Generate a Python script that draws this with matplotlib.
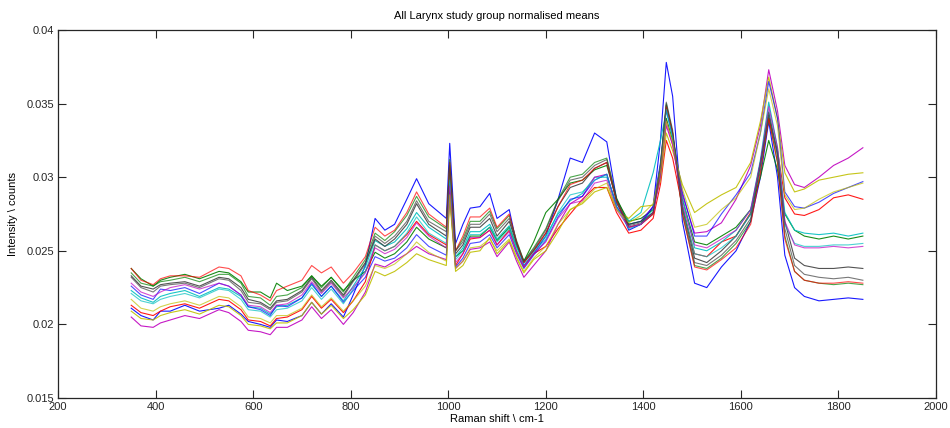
import numpy as np
import matplotlib
matplotlib.use("Agg")
from matplotlib import pyplot as plt

plt.rcParams['font.family'] = ['Liberation Sans', 'DejaVu Sans']

# Raman shift grid (cm-1) and normalised group means (units of 1e-3 counts)
shift = [350, 370, 395, 410, 430, 460, 490, 530, 550, 575,
         590, 615, 635, 648, 670, 700, 720, 740, 760, 785,
         805, 830, 850, 870, 890, 915, 935, 960, 996, 1003,
         1015, 1030, 1045, 1065, 1085, 1100, 1125, 1140, 1155, 1175,
         1200, 1225, 1250, 1275, 1300, 1325, 1345, 1370, 1395, 1420,
         1435, 1447, 1460, 1480, 1505, 1530, 1560, 1590, 1620, 1640,
         1657, 1675, 1690, 1710, 1730, 1760, 1790, 1820, 1850]

b1 = [21.1, 20.6, 20.3, 20.9, 20.9, 21.3, 20.9, 21.1, 21.3, 20.7,
      20.2, 20.0, 19.8, 20.3, 20.2, 20.6, 21.5, 20.7, 21.4, 20.5,
      22.0, 24.0, 27.2, 26.4, 26.8, 28.5, 29.9, 28.2, 27.2, 32.3,
      25.5, 26.8, 27.9, 28.0, 28.9, 27.2, 27.8, 25.5, 24.0, 24.8,
      26.0, 28.5, 31.3, 31.0, 33.0, 32.4, 28.5, 26.4, 26.8, 28.0,
      32.5, 37.8, 35.5, 27.0, 22.8, 22.5, 23.9, 25.0, 27.0, 30.0,
      33.8, 30.0, 24.7, 22.5, 21.9, 21.6, 21.7, 21.8, 21.7]
g1 = [23.8, 23.1, 22.6, 23.0, 23.2, 23.4, 23.1, 23.6, 23.5, 22.9,
      22.2, 22.2, 21.8, 22.8, 22.3, 22.6, 23.3, 22.6, 23.2, 22.3,
      23.0, 23.6, 24.9, 24.5, 24.8, 25.6, 26.6, 25.8, 25.2, 29.5,
      24.6, 25.0, 26.0, 26.0, 26.6, 25.7, 26.6, 25.3, 24.3, 25.6,
      27.6, 28.5, 29.6, 29.8, 30.5, 30.8, 28.5, 27.0, 27.2, 27.8,
      30.0, 34.0, 32.5, 28.5, 25.6, 25.4, 26.0, 26.6, 27.8, 30.0,
      32.5, 30.5, 27.5, 26.4, 26.0, 25.8, 26.0, 25.8, 26.0]
r1 = [21.3, 20.8, 20.6, 20.9, 21.2, 21.4, 21.1, 21.7, 21.6, 21.0,
      20.3, 20.2, 19.9, 20.4, 20.5, 21.0, 21.9, 21.1, 21.7, 20.8,
      21.6, 22.9, 25.4, 25.0, 25.3, 26.1, 27.0, 26.1, 25.4, 29.3,
      24.0, 24.8, 25.8, 25.9, 26.4, 25.4, 26.4, 25.0, 23.9, 24.8,
      25.3, 26.5, 27.5, 28.5, 29.3, 29.3, 27.6, 26.2, 26.4, 27.2,
      29.5, 32.5, 31.3, 28.0, 24.8, 24.6, 25.6, 26.0, 27.6, 31.0,
      34.0, 31.8, 28.6, 27.5, 27.4, 27.8, 28.6, 28.8, 28.5]
c1 = [22.3, 21.8, 21.5, 21.9, 22.1, 22.3, 21.9, 22.5, 22.4, 21.9,
      21.2, 21.1, 20.7, 21.2, 21.3, 21.8, 22.7, 21.9, 22.6, 21.6,
      22.6, 23.9, 25.7, 25.3, 25.6, 26.5, 27.6, 26.6, 25.8, 30.2,
      24.6, 25.2, 26.3, 26.3, 26.8, 25.8, 26.7, 25.3, 24.2, 25.0,
      26.0, 27.5, 28.4, 28.9, 30.0, 30.0, 28.2, 27.0, 27.6, 30.3,
      32.5, 34.5, 32.8, 28.6, 25.2, 25.0, 25.6, 26.4, 27.8, 31.2,
      35.1, 32.0, 27.6, 26.4, 26.2, 26.1, 26.2, 26.0, 26.2]
m1 = [20.5, 19.9, 19.8, 20.1, 20.3, 20.6, 20.4, 21.0, 20.8, 20.2,
      19.6, 19.5, 19.3, 19.8, 19.8, 20.3, 21.2, 20.4, 21.0, 20.0,
      20.8, 22.2, 24.1, 23.9, 24.3, 24.8, 25.3, 24.8, 24.4, 28.8,
      23.8, 24.3, 25.1, 25.2, 25.6, 24.6, 25.6, 24.3, 23.2, 24.0,
      25.0, 26.8, 28.2, 28.7, 30.0, 30.2, 28.0, 26.8, 27.0, 28.0,
      30.8, 33.5, 32.2, 28.8, 26.2, 26.3, 26.9, 28.5, 30.8, 33.5,
      37.3, 34.5, 30.8, 29.5, 29.3, 30.0, 30.8, 31.3, 32.0]
y1 = [20.9, 20.4, 20.3, 20.6, 20.8, 21.0, 20.7, 21.3, 21.2, 20.6,
      20.0, 19.9, 19.7, 20.1, 20.1, 20.6, 21.5, 20.7, 21.3, 20.4,
      21.0, 22.0, 23.6, 23.3, 23.6, 24.2, 24.8, 24.4, 24.0, 28.5,
      23.6, 24.0, 24.9, 25.0, 25.9, 24.8, 25.7, 24.5, 23.5, 24.4,
      25.0, 26.3, 27.8, 28.2, 29.0, 29.3, 27.8, 27.2, 28.0, 28.1,
      29.8, 33.0, 31.8, 29.5, 27.6, 28.2, 28.8, 29.3, 31.0, 33.8,
      36.8, 34.0, 30.3, 29.0, 29.2, 29.8, 30.0, 30.2, 30.3]
k1 = [23.3, 22.6, 22.4, 22.7, 22.8, 22.9, 22.6, 23.2, 23.1, 22.5,
      21.7, 21.5, 21.1, 21.6, 21.7, 22.3, 23.2, 22.3, 23.0, 22.0,
      23.0, 24.2, 25.8, 25.3, 25.8, 26.8, 28.2, 26.8, 26.0, 30.8,
      24.8, 25.4, 26.6, 26.6, 27.2, 26.0, 27.0, 25.5, 24.2, 25.0,
      26.2, 28.0, 29.3, 29.6, 30.6, 31.0, 28.3, 26.6, 26.8, 27.5,
      30.5, 34.9, 33.0, 28.0, 24.5, 24.2, 25.0, 26.0, 27.5, 31.0,
      34.2, 31.5, 27.0, 24.5, 24.0, 23.8, 23.8, 23.9, 23.8]
b2 = [22.6, 22.0, 21.7, 22.4, 22.3, 22.5, 22.1, 22.8, 22.6, 22.0,
      21.2, 21.0, 20.6, 21.3, 21.2, 21.8, 22.8, 21.9, 22.6, 21.5,
      22.3, 23.2, 24.6, 24.3, 24.5, 25.2, 26.1, 25.3, 24.7, 29.0,
      23.9, 24.5, 25.5, 25.6, 26.1, 25.2, 26.1, 24.8, 23.8, 24.7,
      25.7, 27.3, 28.5, 28.7, 29.8, 30.2, 28.0, 26.8, 27.0, 28.0,
      31.0, 34.6, 32.8, 29.0, 26.0, 26.0, 27.5, 28.8, 30.3, 33.0,
      36.5, 34.0, 29.0, 28.0, 27.9, 28.3, 28.9, 29.3, 29.7]
g2 = [23.5, 22.8, 22.6, 22.9, 23.0, 23.2, 22.9, 23.4, 23.4, 22.8,
      21.9, 21.8, 21.3, 21.9, 22.0, 22.5, 23.3, 22.5, 23.2, 22.2,
      23.2, 24.4, 26.2, 25.7, 26.3, 27.4, 28.7, 27.3, 26.5, 31.2,
      25.0, 25.8, 27.0, 27.0, 27.7, 26.5, 27.4, 25.7, 24.3, 25.2,
      26.5, 28.5, 30.0, 30.2, 31.0, 31.3, 28.6, 26.8, 27.0, 27.6,
      30.7, 35.0, 33.0, 27.5, 24.0, 23.8, 24.5, 25.5, 27.0, 30.5,
      34.0, 31.0, 26.0, 23.6, 23.0, 22.8, 22.7, 22.8, 22.7]
r2 = [23.8, 23.0, 22.7, 23.1, 23.3, 23.3, 23.2, 23.9, 23.8, 23.3,
      22.3, 22.0, 21.6, 22.3, 22.6, 23.0, 24.0, 23.5, 23.9, 22.8,
      23.5, 24.6, 26.6, 26.0, 26.4, 27.6, 29.0, 27.5, 26.6, 31.0,
      25.0, 26.0, 27.3, 27.3, 27.9, 26.6, 27.5, 25.6, 24.2, 25.0,
      26.2, 28.0, 29.5, 29.8, 30.6, 31.0, 28.4, 26.6, 26.8, 27.5,
      30.6, 34.8, 33.0, 27.5, 23.9, 23.7, 24.4, 25.2, 26.8, 30.3,
      34.0, 31.0, 25.8, 23.6, 23.0, 22.8, 22.8, 22.9, 22.8]
c2 = [22.1, 21.6, 21.4, 21.7, 21.9, 22.1, 21.8, 22.4, 22.3, 21.7,
      21.0, 20.9, 20.5, 21.0, 21.1, 21.6, 22.5, 21.7, 22.4, 21.4,
      22.4, 23.6, 25.4, 25.0, 25.3, 26.2, 27.3, 26.2, 25.5, 29.8,
      24.4, 25.0, 26.1, 26.1, 26.6, 25.6, 26.5, 25.1, 24.0, 24.9,
      25.8, 27.6, 28.8, 29.0, 29.8, 30.2, 28.0, 26.5, 26.8, 27.8,
      30.8, 34.6, 32.7, 28.0, 24.8, 24.6, 25.2, 26.0, 27.5, 30.8,
      34.5, 31.5, 26.8, 25.5, 25.3, 25.3, 25.4, 25.4, 25.5]
m2 = [22.8, 22.2, 21.9, 22.2, 22.5, 22.7, 22.4, 22.8, 22.6, 22.0,
      21.3, 21.2, 20.8, 21.3, 21.4, 22.0, 22.9, 22.1, 22.8, 21.8,
      22.5, 23.5, 25.2, 24.8, 25.1, 25.9, 26.9, 26.0, 25.2, 29.4,
      24.2, 24.8, 25.9, 25.9, 26.4, 25.4, 26.3, 24.9, 23.9, 24.8,
      25.6, 27.2, 28.2, 28.4, 29.6, 29.8, 27.8, 26.6, 26.8, 27.6,
      30.0, 33.8, 32.2, 28.2, 25.4, 25.2, 25.8, 26.4, 27.8, 31.0,
      34.8, 32.0, 27.0, 25.4, 25.2, 25.2, 25.3, 25.2, 25.3]
y2 = [21.7, 21.1, 20.9, 21.2, 21.4, 21.6, 21.3, 21.9, 21.8, 21.2,
      20.5, 20.4, 20.1, 20.6, 20.6, 21.1, 22.0, 21.2, 21.8, 20.9,
      21.6, 22.6, 24.0, 23.8, 24.1, 24.8, 25.6, 24.9, 24.3, 28.8,
      23.8, 24.3, 25.2, 25.3, 25.8, 25.0, 25.8, 24.6, 23.6, 24.5,
      25.3, 26.8, 27.8, 28.3, 29.2, 29.6, 27.8, 26.9, 27.4, 28.2,
      30.5, 33.8, 32.4, 29.2, 26.6, 26.8, 27.8, 28.6, 30.0, 33.0,
      36.0, 33.5, 28.8, 27.8, 27.9, 28.5, 29.0, 29.3, 29.6]
k2 = [23.2, 22.5, 22.2, 22.6, 22.7, 22.8, 22.5, 23.1, 23.0, 22.3,
      21.5, 21.4, 21.0, 21.5, 21.6, 22.2, 23.1, 22.2, 22.9, 21.9,
      22.9, 24.1, 26.0, 25.5, 26.0, 27.0, 28.4, 27.0, 26.3, 31.0,
      25.0, 25.6, 26.8, 26.8, 27.5, 26.3, 27.2, 25.6, 24.3, 25.1,
      26.4, 28.4, 29.8, 30.0, 30.8, 31.2, 28.5, 26.7, 26.9, 27.6,
      30.8, 35.1, 33.2, 27.8, 24.2, 24.0, 24.7, 25.7, 27.2, 30.8,
      34.4, 31.6, 26.5, 24.0, 23.4, 23.2, 23.1, 23.2, 23.0]

groups = [b1, g1, r1, c1, m1, y1, k1, b2, g2, r2, c2, m2, y2, k2]
# MATLAB classic colour order b g r c m y k
colours = ['#0000ff', '#008000', '#ff0000', '#00bfbf', '#bf00bf', '#bfbf00', '#404040']

fig = plt.figure(figsize=(9.5, 4.28), dpi=100)
ax = fig.add_axes([0.0611, 0.0701, 0.9242, 0.8598])

for i, g in enumerate(groups):
    ax.plot(shift, np.array(g) * 1e-3, color=colours[i % 7], linewidth=0.8,
            alpha=0.9 if i < 7 else 0.7)

ax.set_xlim(200, 2000)
ax.set_ylim(0.015, 0.04)
ax.set_xticks(np.arange(200, 2001, 200))
ax.set_yticks([0.015, 0.02, 0.025, 0.03, 0.035, 0.04])
ax.set_yticklabels(['0.015', '0.02', '0.025', '0.03', '0.035', '0.04'])
ax.tick_params(direction='in', length=6, width=0.8, top=True, right=True,
               labelsize=8, pad=3, colors='#262626')
for s in ax.spines.values():
    s.set_linewidth(0.9)
    s.set_color('#262626')

ax.set_title('All Larynx study group normalised means', fontsize=8, pad=8)
ax.set_xlabel('Raman shift \\ cm-1', fontsize=8, labelpad=1)
ax.set_ylabel('Intensity \\ counts', fontsize=8, labelpad=6)

fig.savefig('out.png', dpi=100)
